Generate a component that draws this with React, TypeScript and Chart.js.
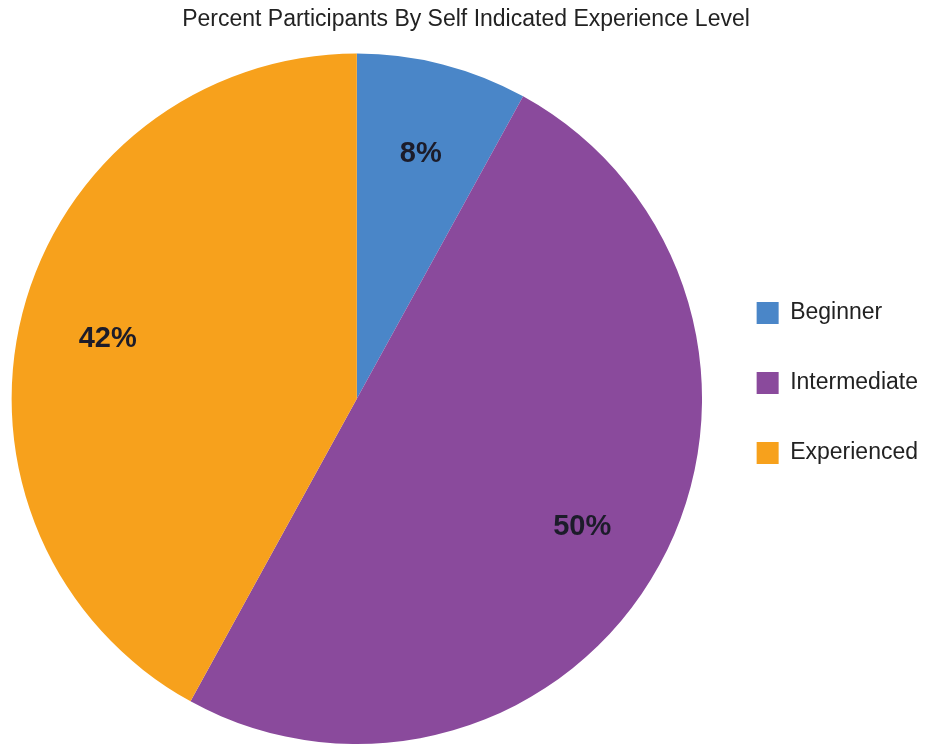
import React, { useEffect, useRef } from "react";
import { Chart, registerables } from "chart.js";

Chart.register(...registerables);

const titleText = "Percent Participants By Self Indicated Experience Level";
const categories = ["Beginner", "Intermediate", "Experienced"];
const values = [8, 50, 42];
const colors = ["#4a86c8", "#8a4a9c", "#f7a11c"];

const FONT = "'Liberation Sans', Arial, sans-serif";

const labelPlugin = {
  id: "sliceLabels",
  afterDatasetsDraw(chart: any) {
    const ctx = chart.ctx;
    const meta = chart.getDatasetMeta(0);
    const total = values.reduce((a, b) => a + b, 0);
    ctx.save();
    ctx.font = `bold 29px ${FONT}`;
    ctx.fillStyle = "#1c1c2a";
    ctx.textAlign = "center";
    ctx.textBaseline = "middle";
    meta.data.forEach((arc: any, i: number) => {
      const p = arc.getProps(["x", "y", "startAngle", "endAngle", "outerRadius"], true);
      const mid = (p.startAngle + p.endAngle) / 2;
      const r = p.outerRadius * 0.745;
      const x = p.x + Math.cos(mid) * r;
      const y = p.y + Math.sin(mid) * r + 4;
      ctx.fillText(Math.round((values[i] / total) * 100) + "%", x, y);
    });
    ctx.restore();
  },
};

// nudge the legend block to sit where the reference places it
const legendNudge = {
  id: "legendNudge",
  afterLayout(chart: any) {
    const lg = chart.legend;
    if (!lg) return;
    const dx = -2;
    const dy = 11;
    lg.left += dx;
    lg.right += dx;
    lg.top += dy;
    lg.bottom += dy;
  },
};

export default function App() {
  const ref = useRef<HTMLCanvasElement>(null);
  useEffect(() => {
    document.body.style.margin = "0";
    const chart = new Chart(ref.current!, {
      type: "pie",
      data: {
        labels: categories,
        datasets: [
          {
            data: values,
            backgroundColor: colors,
            borderWidth: 0,
          },
        ],
      },
      options: {
        animation: false,
        responsive: false,
        layout: { padding: { top: 0, bottom: 3, left: 2, right: 0 } },
        plugins: {
          title: {
            display: true,
            text: titleText,
            color: "#222",
            font: { family: FONT, size: 23, weight: "normal" },
            padding: { top: 6, bottom: 20 },
          },
          legend: {
            display: true,
            position: "right",
            labels: {
              boxWidth: 22,
              boxHeight: 22,
              padding: 47,
              color: "#222",
              font: { family: FONT, size: 23 },
            },
          },
          tooltip: { enabled: false },
        },
      },
      plugins: [labelPlugin, legendNudge],
    });
    return () => chart.destroy();
  }, []);
  return (
    <div style={{ width: 930, height: 747 }}>
      <canvas ref={ref} width={930} height={747} style={{ display: "block" }} />
    </div>
  );
}
